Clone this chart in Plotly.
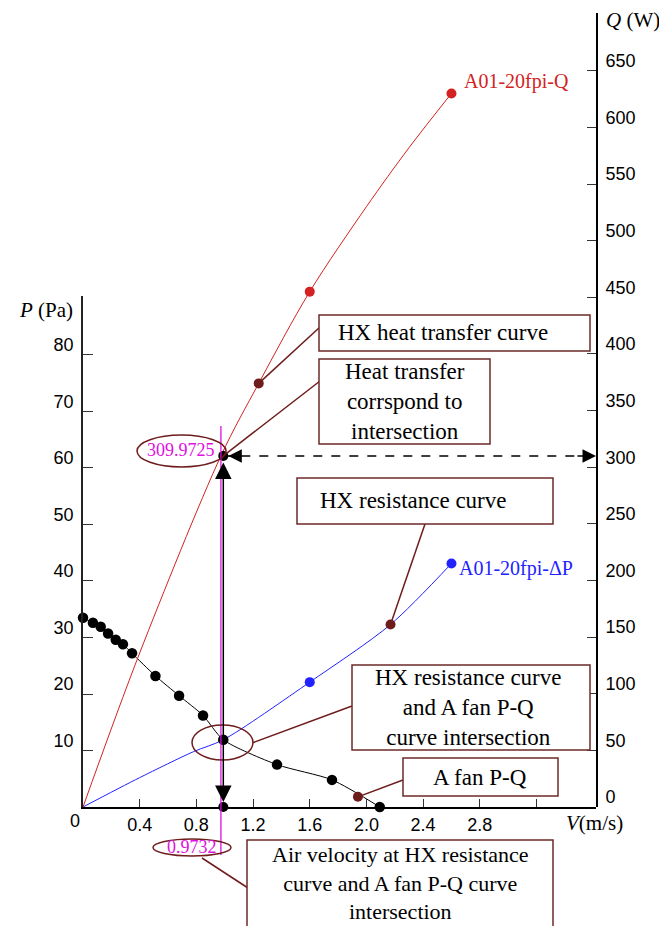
import plotly.graph_objects as go

# ---------------- data ----------------
V_Q = [0, 0.4, 0.9732, 1.24, 1.6, 2.0, 2.3, 2.6]
Q_vals = [0, 136, 309.9725, 374, 455, 530, 582, 630]
Q_marker_V = [1.6, 2.6]
Q_marker_vals = [455, 630]

V_dP = [0, 0.4, 0.78, 0.99, 1.6, 2.17, 2.6]
dP_vals = [0, 5.2, 9.8, 11.9, 22.1, 32.3, 43.1]
dP_marker_V = [1.6, 2.6]
dP_marker_vals = [22.1, 43.1]

fan_V = [0, 0.07, 0.125, 0.177, 0.231, 0.282, 0.346, 0.511, 0.678, 0.847, 0.99, 1.369, 1.757, 2.094]
fan_P = [33.5, 32.6, 31.9, 30.7, 29.6, 28.8, 27.2, 23.2, 19.7, 16.2, 11.9, 7.5, 4.8, 0]

intersect_V_label = 0.9732
intersect_Q = 309.9725
mark_V = 0.99          # where the black intersection marks sit

heat_dot = (1.24, 374)     # on Q curve
resist_dot = (2.17, 32.3)  # on dP curve
fan_dot = (1.94, 1.8)      # on fan curve

x_ticks = [0, 0.4, 0.8, 1.2, 1.6, 2.0, 2.4, 2.8, 3.2]
x_ticktext = ['', '0.4', '0.8', '1.2', '1.6', '2.0', '2.4', '2.8', '']
P_ticks = [10, 20, 30, 40, 50, 60, 70, 80]
Q_ticks = [0, 50, 100, 150, 200, 250, 300, 350, 400, 450, 500, 550, 600, 650]

# ---------------- layout constants ----------------
# the page body adds an 8px offset, so the figure is 8px smaller each way
W, H = 659, 918
L, R, T, B = 75, 71, 5, 119
PW, PH = W - L - R, H - T - B
X0PX, Y0PX = 83, 807            # page pixel position of the origin
X_MAX = 3.62
P_DOM = (Y0PX - 296) / PH
P_MAX = 90.44
Q_MAX = 701.0

RED = '#d42222'
BLUE = '#2222ff'
MAG = '#e010e0'
DRED = '#6e1c1c'
BOXC = '#6e2a2a'
SERIF = 'Liberation Serif, Times New Roman, serif'
SANS = 'Liberation Sans, Arial, sans-serif'
TICK_SIZE = 18
BOX_SIZE = 23


def px(x):
    return (x - X0PX) / PW


def py(y):
    return (Y0PX - y) / PH


def dx(v):
    return v / X_MAX


def dyP(p):
    return p / P_MAX * P_DOM


def dyQ(q):
    return q / Q_MAX


fig = go.Figure()

# Q curve (right axis)
fig.add_trace(go.Scatter(x=V_Q, y=Q_vals, yaxis='y2', mode='lines',
                         line=dict(color=RED, width=1, shape='spline', smoothing=0.9),
                         hoverinfo='skip'))
fig.add_trace(go.Scatter(x=Q_marker_V, y=Q_marker_vals, yaxis='y2', mode='markers',
                         marker=dict(color=RED, size=10), cliponaxis=False))

# dP curve (left axis)
fig.add_trace(go.Scatter(x=V_dP, y=dP_vals, yaxis='y', mode='lines',
                         line=dict(color=BLUE, width=1, shape='spline', smoothing=0.8)))
fig.add_trace(go.Scatter(x=dP_marker_V, y=dP_marker_vals, yaxis='y', mode='markers',
                         marker=dict(color=BLUE, size=10), cliponaxis=False))

# fan curve
fig.add_trace(go.Scatter(x=fan_V, y=fan_P, yaxis='y', mode='lines+markers',
                         line=dict(color='black', width=1, shape='spline', smoothing=0.7),
                         marker=dict(color='black', size=10.5), cliponaxis=False))

# intersection marks
fig.add_trace(go.Scatter(x=[mark_V], y=[0], yaxis='y', mode='markers',
                         marker=dict(color='black', size=10), cliponaxis=False))
fig.add_trace(go.Scatter(x=[mark_V], y=[intersect_Q], yaxis='y2', mode='markers',
                         marker=dict(color='black', size=10), cliponaxis=False))

# callout dots
fig.add_trace(go.Scatter(x=[heat_dot[0]], y=[heat_dot[1]], yaxis='y2', mode='markers',
                         marker=dict(color=DRED, size=10), cliponaxis=False))
fig.add_trace(go.Scatter(x=[resist_dot[0], fan_dot[0]], y=[resist_dot[1], fan_dot[1]], yaxis='y',
                         mode='markers', marker=dict(color=DRED, size=10), cliponaxis=False))

shapes = []
annotations = []

# magenta vertical line
shapes.append(dict(type='line', xref='paper', yref='paper',
                   x0=dx(intersect_V_label), x1=dx(intersect_V_label), y0=py(426), y1=py(855),
                   line=dict(color=MAG, width=1.3), layer='above'))

# dashed horizontal arrow line
shapes.append(dict(type='line', xref='paper', yref='paper',
                   x0=dx(mark_V), x1=1, y0=dyQ(intersect_Q), y1=dyQ(intersect_Q),
                   line=dict(color='black', width=1.5, dash='dash')))

# ellipses
shapes.append(dict(type='circle', xref='paper', yref='paper',
                   x0=px(137), x1=px(226), y0=py(435), y1=py(467),
                   line=dict(color=DRED, width=1.5)))
shapes.append(dict(type='circle', xref='paper', yref='paper',
                   x0=px(153), x1=px(231), y0=py(839), y1=py(856),
                   line=dict(color=DRED, width=1.5)))
shapes.append(dict(type='circle', xref='paper', yref='paper',
                   x0=px(192), x1=px(253), y0=py(725), y1=py(760),
                   line=dict(color=DRED, width=1.5)))


# leader lines (pixel box edges -> data points)
def leader(x0p, y0p, x1, y1):
    shapes.append(dict(type='line', xref='paper', yref='paper',
                       x0=x0p, y0=y0p, x1=x1, y1=y1,
                       line=dict(color=DRED, width=1.5)))


leader(px(320), py(327), dx(heat_dot[0]), dyQ(heat_dot[1]))
leader(px(320), py(381), dx(mark_V), dyQ(intersect_Q))
leader(px(425), py(524), dx(resist_dot[0]), dyP(resist_dot[1]))
leader(px(352), py(706), px(252.7), py(742.7))
leader(px(403), py(780), dx(fan_dot[0]), dyP(fan_dot[1]))
leader(px(248), py(888), px(202), py(858))

# callout boxes
boxes = [
    ((319, 315, 590, 351), 'HX heat transfer curve', 443, 333, BOX_SIZE),
    ((319, 359, 490, 444), 'Heat transfer<br>corrspond to<br>intersection', 404.5, 401.5, BOX_SIZE),
    ((297, 478, 553, 524), 'HX resistance curve', 413, 501, BOX_SIZE),
    ((352, 665, 590, 750), 'HX resistance curve<br>and A fan P-Q<br>curve intersection', 468, 707.5, BOX_SIZE),
    ((403, 758, 558, 796), 'A fan P-Q', 480, 777, BOX_SIZE),
    ((247, 840, 553, 940), 'Air velocity at HX resistance<br>curve and A fan P-Q curve<br>intersection', 400, 883, 22),
]
for (x0, y0, x1, y1), txt, cx, cy, fs in boxes:
    shapes.append(dict(type='rect', xref='paper', yref='paper',
                       x0=px(x0), x1=px(x1), y0=py(y0), y1=py(y1),
                       fillcolor='white', line=dict(color=BOXC, width=1.5), layer='above'))
    annotations.append(dict(xref='paper', yref='paper', x=px(cx), y=py(cy),
                            text=txt, showarrow=False, xanchor='center', yanchor='middle',
                            font=dict(family=SERIF, size=fs, color='black')))

# arrows
annotations.append(dict(xref='x', yref='y2', axref='x', ayref='y2',
                        x=mark_V, y=0, ax=mark_V, ay=intersect_Q, text='',
                        showarrow=True, arrowhead=2, arrowside='end+start', arrowsize=2.2,
                        arrowwidth=1.5, arrowcolor='black', standoff=5, startstandoff=5))
annotations.append(dict(xref='x', yref='y2', x=mark_V, y=intersect_Q, ax=20, ay=0,
                        text='', showarrow=True, arrowhead=2, arrowsize=1.8, arrowwidth=1.5,
                        arrowcolor='black', standoff=5))
annotations.append(dict(xref='paper', yref='y2', x=1, y=intersect_Q, ax=-20, ay=0,
                        text='', showarrow=True, arrowhead=2, arrowsize=1.8, arrowwidth=1.5,
                        arrowcolor='black', standoff=0))


def label(xp, yp, text, size, color, family=SERIF, xanchor='center'):
    annotations.append(dict(xref='paper', yref='paper', x=px(xp), y=py(yp), text=text,
                            showarrow=False, xanchor=xanchor, yanchor='middle',
                            font=dict(family=family, size=size, color=color)))


# value labels in ellipses
label(181, 450, '309.9725', 18, MAG)
label(192, 847, '0.9732', 18, MAG)

# series labels
label(462, 82, 'A01-20fpi-Q', 20, RED, xanchor='left')
label(457, 568, 'A01-20fpi-ΔP', 20, BLUE, xanchor='left')

# axis titles
label(17, 310, '<i>P</i> (Pa)', 21, 'black', xanchor='left')
label(604, 20, '<i>Q</i> (W)', 21, 'black', xanchor='left')
label(564, 823, '<i>V</i>(m/s)', 21, 'black', xanchor='left')
label(75, 821, '0', TICK_SIZE, 'black', family=SANS)

fig.update_layout(
    width=W, height=H,
    margin=dict(l=L, r=R, t=T, b=B, pad=0),
    paper_bgcolor='white', plot_bgcolor='rgba(0,0,0,0)',
    showlegend=False,
    xaxis=dict(range=[0, X_MAX], domain=[0, 1], anchor='y', tickmode='array',
               tickvals=x_ticks, ticktext=x_ticktext, ticks='inside', ticklen=8,
               tickcolor='#333', tickwidth=1, showline=True, linecolor='black', linewidth=2,
               showgrid=False, zeroline=False,
               tickfont=dict(family=SANS, size=TICK_SIZE, color='black')),
    yaxis=dict(range=[0, P_MAX], domain=[0, P_DOM], anchor='x', side='left', tickmode='array',
               tickvals=P_ticks, ticks='inside', ticklen=10, tickcolor='#333', tickwidth=1,
               showline=True, linecolor='#222', linewidth=1.5, showgrid=False, zeroline=False,
               ticklabelshift=-10, ticklabelstandoff=4,
               tickfont=dict(family=SANS, size=TICK_SIZE, color='black')),
    yaxis2=dict(range=[0, Q_MAX], domain=[0, 1], anchor='x', side='right', tickmode='array',
                tickvals=Q_ticks, ticks='inside', ticklen=9, tickcolor='#333', tickwidth=1,
                showline=True, linecolor='black', linewidth=2, showgrid=False, zeroline=False,
                ticklabelshift=-10, ticklabelstandoff=4,
                tickfont=dict(family=SANS, size=TICK_SIZE, color='black')),
    shapes=shapes,
    annotations=annotations,
)

fig.write_html('out.html')
